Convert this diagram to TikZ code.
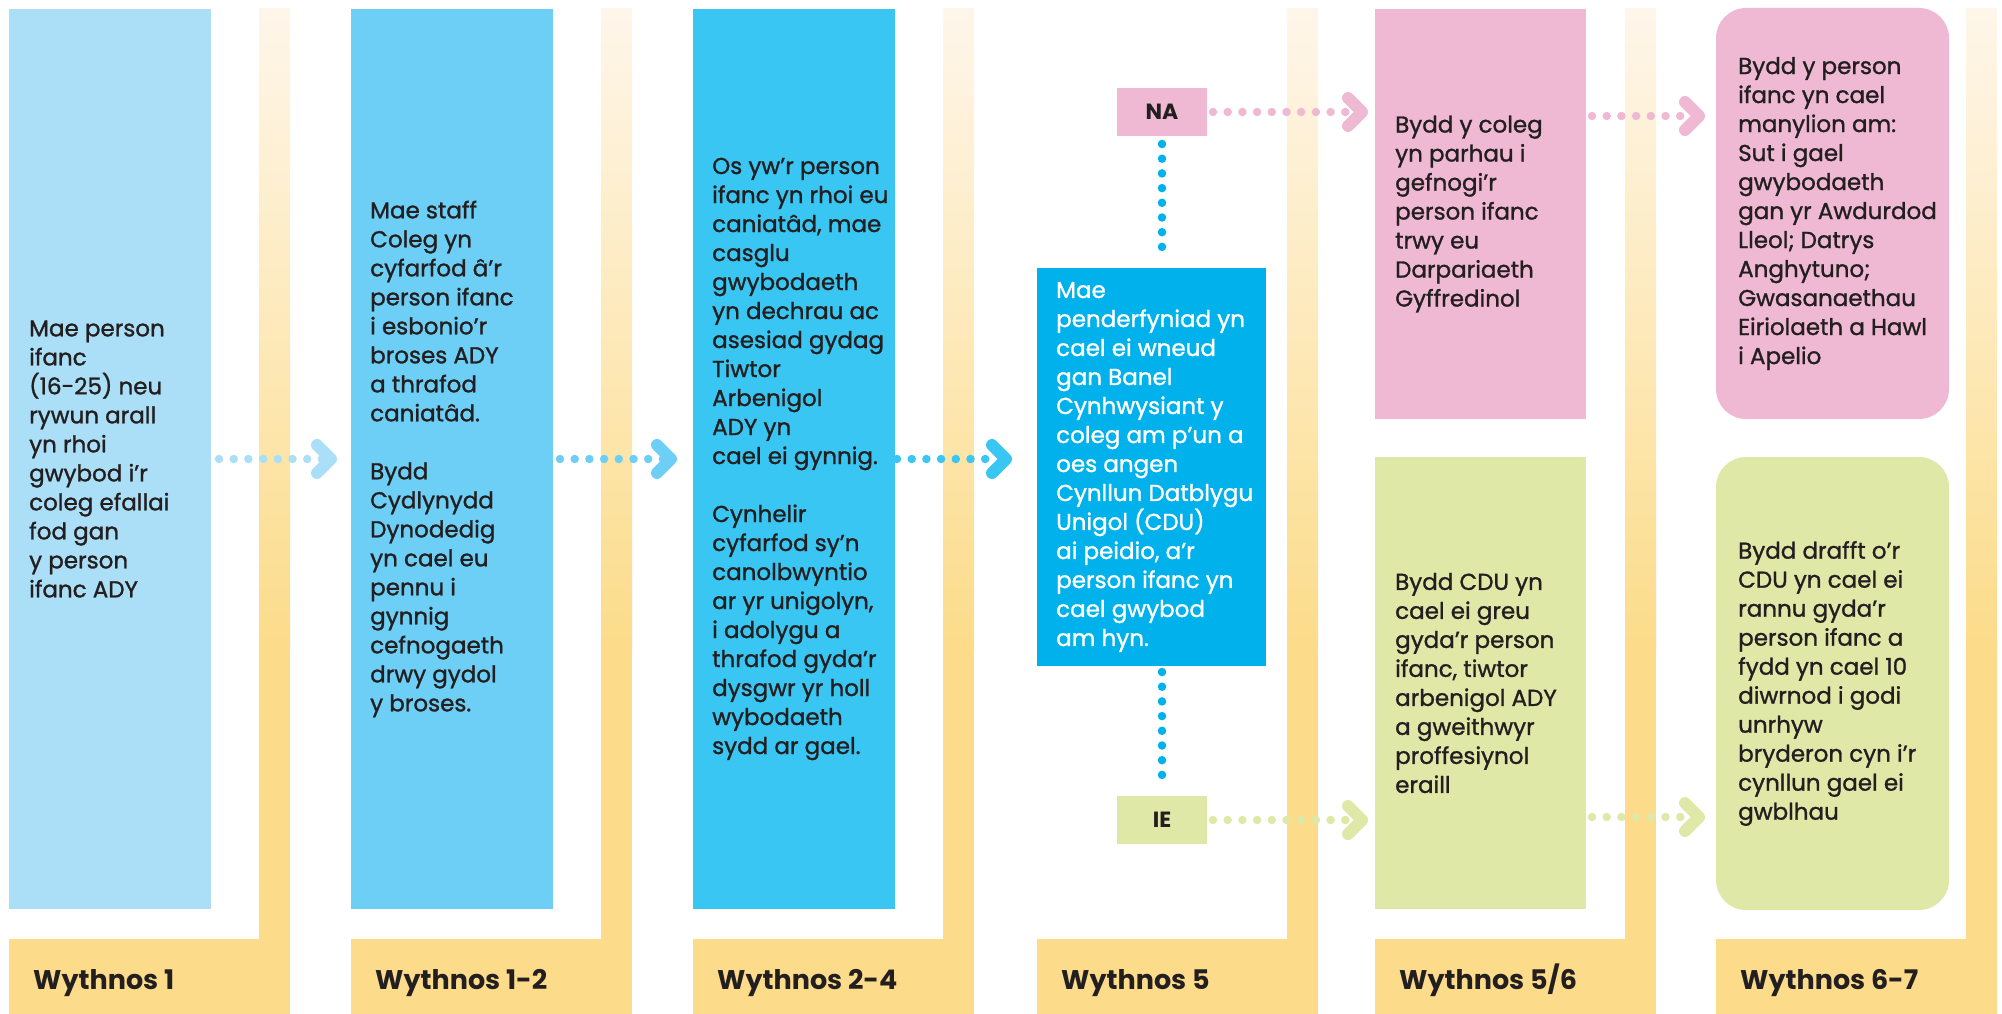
\documentclass[tikz,border=0pt]{standalone}
\usepackage{fontspec}
\setmainfont{Poppins}
\newfontfamily\medfont{Poppins}[FakeBold=1.2]
\usetikzlibrary{calc}
\definecolor{cA}{RGB}{171,223,247}
\definecolor{cB}{RGB}{109,207,246}
\definecolor{cC}{RGB}{58,198,243}
\definecolor{cD}{RGB}{0,177,235}
\definecolor{cPink}{RGB}{240,185,211}
\definecolor{cGreen}{RGB}{224,232,168}
\definecolor{cYel}{RGB}{252,220,138}
\definecolor{cCream}{RGB}{254,246,234}
\definecolor{cTxt}{RGB}{35,31,32}
\tikzset{
  box/.style={draw=none, anchor=north west, inner sep=0pt, outer sep=0pt},
  tag/.style={draw=none, anchor=center, inner sep=0pt, outer sep=0pt, minimum width=90pt, minimum height=48pt, text=cTxt, font=\fontsize{22}{26}\selectfont\bfseries},
  body/.style={anchor=west, align=left, inner sep=0pt, text=cTxt, font=\medfont\fontsize{23}{29}\selectfont},
  wk/.style={anchor=base west, inner sep=0pt, text=cTxt, font=\fontsize{27}{32}\selectfont\bfseries},
  dotln/.style={line width=8.5pt, line cap=round, dash pattern=on 0pt off 14.7pt},
  chev/.style={line width=12pt, line cap=round, line join=round},
}
\newcommand\weekbar[3]{%
  \fill[top color=cCream, bottom color=cYel] (#1+250,9) rectangle (#1+281,650);
  \fill[cYel] (#1+250,649) rectangle (#1+281,939);
  \fill[cYel] (#1,939) rectangle (#1+281,1014);
  \node[wk] (#3) at (#1+24,989) {#2};}
\newcommand\chevat[2]{%
  \draw[chev, #2] ($(#1)+(-14,-14)$) -- (#1) -- ($(#1)+(-14,14)$);}
\begin{document}
\begin{tikzpicture}[x=1pt, y=-1pt]
\useasboundingbox (0,0) rectangle (2002,1014);
% week strips and bars
\weekbar{9}{Wythnos 1}{w1}
\weekbar{351}{Wythnos 1-2}{w2}
\weekbar{693}{Wythnos 2-4}{w3}
\weekbar{1037}{Wythnos 5}{w4}
\weekbar{1375}{Wythnos 5/6}{w5}
\weekbar{1716}{Wythnos 6-7}{w6}
% boxes
\node[box, fill=cA, minimum width=202pt, minimum height=900pt] (b1) at (9,9) {};
\node[box, fill=cB, minimum width=202pt, minimum height=900pt] (b2) at (351,9) {};
\node[box, fill=cC, minimum width=202pt, minimum height=900pt] (b3) at (693,9) {};
\node[box, fill=cD, minimum width=229pt, minimum height=398pt] (b4) at (1037,268) {};
\node[box, fill=cPink, minimum width=211pt, minimum height=410pt] (p5) at (1375,9) {};
\node[box, fill=cGreen, minimum width=211pt, minimum height=452pt] (g5) at (1375,457) {};
\node[box, fill=cPink, minimum width=233pt, minimum height=411pt, rounded corners=30pt] (p6) at (1716,8) {};
\node[box, fill=cGreen, minimum width=233pt, minimum height=453pt, rounded corners=30pt] (g6) at (1716,457) {};
\node[tag, fill=cPink] (na) at (1162,112) {NA};
\node[tag, fill=cGreen] (ie) at (1162,820) {IE};
% texts
\node[body] (t1) at ($(b1.west)+(20,0)$) {Mae person\\ifanc\\(16-25) neu\\rywun arall\\yn rhoi\\gwybod i’r\\coleg efallai\\fod gan\\y person\\ifanc ADY};
\node[body] (t2) at ($(b2.west)+(19,0)$) {Mae staff\\Coleg yn\\cyfarfod â’r\\person ifanc\\i esbonio’r\\broses ADY\\a thrafod\\caniatâd.\\[29pt]Bydd\\Cydlynydd\\Dynodedig\\yn cael eu\\pennu i\\gynnig\\cefnogaeth\\drwy gydol\\y broses.};
\node[body] (t3) at ($(b3.west)+(19,0)$) {Os yw’r person\\ifanc yn rhoi eu\\caniatâd, mae\\casglu\\gwybodaeth\\yn dechrau ac\\asesiad gydag\\Tiwtor\\Arbenigol\\ADY yn\\cael ei gynnig.\\[29pt]Cynhelir\\cyfarfod sy’n\\canolbwyntio\\ar yr unigolyn,\\i adolygu a\\thrafod gyda’r\\dysgwr yr holl\\wybodaeth\\sydd ar gael.};
\node[body, text=white] (t4) at ($(b4.west)+(19,0)$) {Mae\\penderfyniad yn\\cael ei wneud\\gan Banel\\Cynhwysiant y\\coleg am p’un a\\oes angen\\Cynllun Datblygu\\Unigol (CDU)\\ai peidio, a’r\\person ifanc yn\\cael gwybod\\am hyn.};
\node[body] (t5) at ($(p5.west)+(20,0)$) {Bydd y coleg\\yn parhau i\\gefnogi’r\\person ifanc\\trwy eu\\Darpariaeth\\Gyffredinol};
\node[body] (t6) at ($(g5.west)+(20,0)$) {Bydd CDU yn\\cael ei greu\\gyda’r person\\ifanc, tiwtor\\arbenigol ADY\\a gweithwyr\\proffesiynol\\eraill};
\node[body] (t7) at ($(p6.west)+(22,0)$) {Bydd y person\\ifanc yn cael\\manylion am:\\Sut i gael\\gwybodaeth\\gan yr Awdurdod\\Lleol; Datrys\\Anghytuno;\\Gwasanaethau\\Eiriolaeth a Hawl\\i Apelio};
\node[body] (t8) at ($(g6.west)+(22,0)$) {Bydd drafft o’r\\CDU yn cael ei\\rannu gyda’r\\person ifanc a\\fydd yn cael 10\\diwrnod i godi\\unrhyw\\bryderon cyn i’r\\cynllun gael ei\\gwblhau};
% arrows between columns
\coordinate (h1) at ($(b2.west)+(-20,0)$);
\draw[dotln, cA] ($(b1.east)+(8,0)$) -- ($(h1)+(-8,0)$);
\chevat{h1}{cA}
\coordinate (h2) at ($(b3.west)+(-22,0)$);
\draw[dotln, cB] ($(b2.east)+(7,0)$) -- ($(h2)+(-8,0)$);
\chevat{h2}{cB}
\coordinate (h3) at ($(b3.east -| b4.west)+(-31,0)$);
\draw[dotln, cC] ($(b3.east)+(2,0)$) -- ($(h3)+(-8,0)$);
\chevat{h3}{cC}
% decision branches
\draw[dotln, cD] ($(na.south)+(0,8)$) -- ($(na.south |- b4.north)+(0,-8)$);
\draw[dotln, cD] ($(ie.north |- b4.south)+(0,6)$) -- ($(ie.north)+(0,-8)$);
\coordinate (h4) at ($(na.east -| p5.west)+(-13,0)$);
\draw[dotln, cPink] ($(na.east)+(6,0)$) -- ($(h4)+(-8,0)$);
\chevat{h4}{cPink}
\coordinate (h5) at ($(ie.east -| g5.west)+(-13,0)$);
\draw[dotln, cGreen] ($(ie.east)+(6,0)$) -- ($(h5)+(-8,0)$);
\chevat{h5}{cGreen}
\coordinate (h6) at ($(na.east -| p6.west)+(-17,4)$);
\draw[dotln, cPink] ($(na.east -| p5.east)+(6,4)$) -- ($(h6)+(-8,0)$);
\chevat{h6}{cPink}
\coordinate (h7) at ($(ie.east -| g6.west)+(-17,-3)$);
\draw[dotln, cGreen] ($(ie.east -| g5.east)+(6,-3)$) -- ($(h7)+(-8,0)$);
\chevat{h7}{cGreen}
\end{tikzpicture}
\end{document}
